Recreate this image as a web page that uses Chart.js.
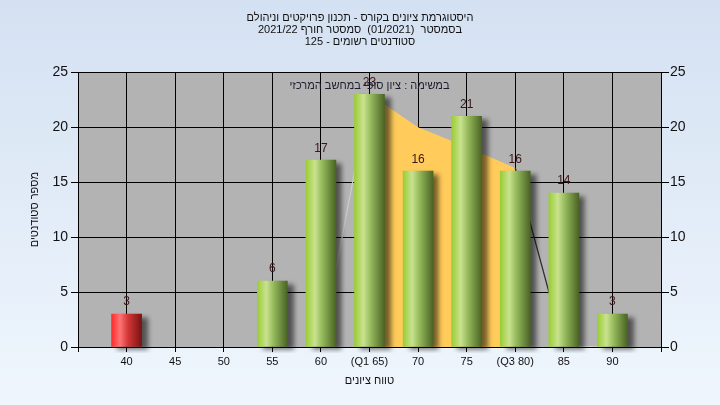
<!DOCTYPE html>
<html><head><meta charset="utf-8">
<script src="https://cdn.jsdelivr.net/npm/chart.js@4/dist/chart.umd.min.js"></script>
<style>html,body{margin:0;padding:0;background:#fff}#wrap{width:720px;height:405px;position:relative}</style>
</head><body><div id="wrap"><canvas id="c" dir="rtl"></canvas></div>
<script>
const titleLines = ['היסטוגרמת ציונים בקורס - תכנון פרויקטים וניהולם', 'בסמסטר  (01/2021)  סמסטר חורף 2021/22', 'סטודנטים רשומים - 125'];
const noteText = 'במשימה : ציון סופי במחשב המרכזי';
const xTitle = 'טווח ציונים';
const yTitle = 'מספר סטודנטים';
const categories = [40, 45, 50, 55, 60, 65, 70, 75, 80, 85, 90];
const tickLabels = ['40', '45', '50', '55', '60', '(Q1 65)', '70', '75', '(Q3 80)', '85', '90'];
const counts = [3, 0, 0, 6, 17, 23, 16, 21, 16, 14, 3];
const passMark = 55;
const q1 = 65, q3 = 80;
const curveX = [60, 65, 70, 75, 80, 85, 90];
const curveY = [0, 23, 20, 18.2, 16.3, 0, 0];
const xMin = 35, xMax = 95, xStep = 5;
const yMin = 0, yMax = 25, yStep = 5;

const FONT = '"Liberation Sans", "DejaVu Sans", Arial, sans-serif';

const barData = categories.map((c, i) => ({x: c, y: counts[i]})).filter(p => p.y > 0);
const curveData = curveX.map((c, i) => ({x: c, y: curveY[i]}));
const iqrData = curveData.filter(p => p.x >= q1 && p.x <= q3);

function barFill(ctx) {
  const chart = ctx.chart;
  const xs = chart.scales && chart.scales.x;
  const v = ctx.raw ? ctx.raw.x : 0;
  const red = v < passMark;
  if (!chart.chartArea || !xs || ctx.type !== 'data') return red ? '#e03030' : '#8cbf3a';
  const cx = xs.getPixelForValue(v);
  const g = chart.ctx.createLinearGradient(cx - 15, 0, cx + 15, 0);
  if (red) {
    g.addColorStop(0, '#ff2a2a');
    g.addColorStop(0.28, '#ff7474');
    g.addColorStop(0.55, '#d23636');
    g.addColorStop(1, '#7a1212');
  } else {
    g.addColorStop(0, '#9acd35');
    g.addColorStop(0.3, '#c9e28f');
    g.addColorStop(0.55, '#93b85a');
    g.addColorStop(1, '#4a6424');
  }
  return g;
}

const bgPlugin = {
  id: 'bg',
  beforeDraw(chart) {
    const {ctx, width, height, chartArea: a} = chart;
    ctx.save();
    const g = ctx.createLinearGradient(0, 0, 0, height);
    g.addColorStop(0, '#d4e1f2');
    g.addColorStop(1, '#eff6fd');
    ctx.fillStyle = g;
    ctx.fillRect(0, 0, width, height);
    ctx.fillStyle = '#b3b3b3';
    ctx.fillRect(a.left, a.top, a.right - a.left, a.bottom - a.top);
    ctx.restore();
  }
};

const shadowPlugin = {
  id: 'shadow',
  beforeDatasetDraw(chart, args) {
    if (args.meta.type !== 'bar') return;
    const ctx = chart.ctx;
    ctx.save();
    ctx.shadowColor = 'rgba(0,0,0,0.55)';
    ctx.shadowBlur = 5;
    ctx.shadowOffsetX = 6;
    ctx.shadowOffsetY = 3;
  },
  afterDatasetDraw(chart, args) {
    if (args.meta.type !== 'bar') return;
    chart.ctx.restore();
  }
};

const labelPlugin = {
  id: 'vlabels',
  afterDatasetsDraw(chart) {
    const ctx = chart.ctx;
    const a = chart.chartArea;
    ctx.save();
    ctx.font = '11px ' + FONT;
    ctx.textAlign = 'center';
    ctx.textBaseline = 'middle';
    ctx.fillStyle = '#1c1c30';
    ctx.fillText(noteText, (a.left + a.right) / 2, a.top + 14);
    ctx.font = '12px ' + FONT;
    ctx.fillStyle = '#3a1616';
    const meta = chart.getDatasetMeta(0);
    meta.data.forEach((el, i) => {
      const p = barData[i];
      ctx.fillText(String(p.y), el.x, el.y - 12);
    });
    ctx.restore();
  }
};

new Chart(document.getElementById('c'), {
  data: {
    datasets: [
      {
        type: 'bar', data: barData, order: 0,
        backgroundColor: barFill, borderWidth: 0, barThickness: 30,
        clip: {left: 10, top: 10, right: 10, bottom: 6}
      },
      {
        type: 'line', data: iqrData, order: 2,
        fill: 'origin', backgroundColor: '#ffcb5a', borderWidth: 0,
        borderColor: 'rgba(0,0,0,0)', pointRadius: 0, tension: 0
      },
      {
        type: 'line', data: curveData, order: 1, fill: false,
        borderWidth: 1.3, pointRadius: 0, tension: 0,
        borderColor: '#333',
        segment: {
          borderColor: s => {
            const x0 = s.p0.parsed.x;
            if (x0 < q1) return '#c9c9c9';
            if (x0 >= q1 && x0 < q3) return 'rgba(0,0,0,0)';
            if (x0 === q3) return '#303030';
            return '#d6d6d6';
          }
        }
      }
    ]
  },
  options: {
    responsive: true, maintainAspectRatio: false, animation: false,
    layout: {padding: 0},
    plugins: {
      legend: {display: false},
      tooltip: {enabled: false},
      title: {
        display: true, text: titleLines, color: '#111',
        font: {family: FONT, size: 11, weight: 'normal', lineHeight: 1.1},
        padding: {top: 12, bottom: 24}
      }
    },
    scales: {
      x: {
        type: 'linear', position: 'bottom', min: xMin, max: xMax, offset: false,
        ticks: {
          stepSize: xStep, autoSkip: false, maxRotation: 0, color: '#111', padding: 3,
          font: {family: FONT, size: 11},
          callback: v => { const i = categories.indexOf(v); return i >= 0 ? tickLabels[i] : ''; }
        },
        grid: {color: '#000', lineWidth: 1, tickLength: 5, offset: false},
        border: {color: '#000', width: 1},
        title: {display: true, text: xTitle, color: '#111', font: {family: FONT, size: 11}, padding: {top: 0, bottom: 17}},
        afterFit: s => { s.height = 58; }
      },
      y: {
        type: 'linear', position: 'left', min: yMin, max: yMax,
        ticks: {stepSize: yStep, color: '#111', padding: 3, font: {family: FONT, size: 14}},
        grid: {color: '#000', lineWidth: 1, tickLength: 7},
        border: {color: '#000', width: 1},
        title: {display: true, text: yTitle, color: '#111', font: {family: FONT, size: 11}, padding: {top: 28, bottom: 0}},
        afterFit: s => { s.width = 78; }
      },
      y2: {
        type: 'linear', position: 'right', min: yMin, max: yMax,
        ticks: {stepSize: yStep, color: '#111', padding: 1, font: {family: FONT, size: 14}},
        grid: {color: '#000', lineWidth: 1, tickLength: 8, drawOnChartArea: false},
        border: {color: '#000', width: 1},
        afterFit: s => { s.width = 59; }
      }
    }
  },
  plugins: [bgPlugin, shadowPlugin, labelPlugin]
});
</script></body></html>
